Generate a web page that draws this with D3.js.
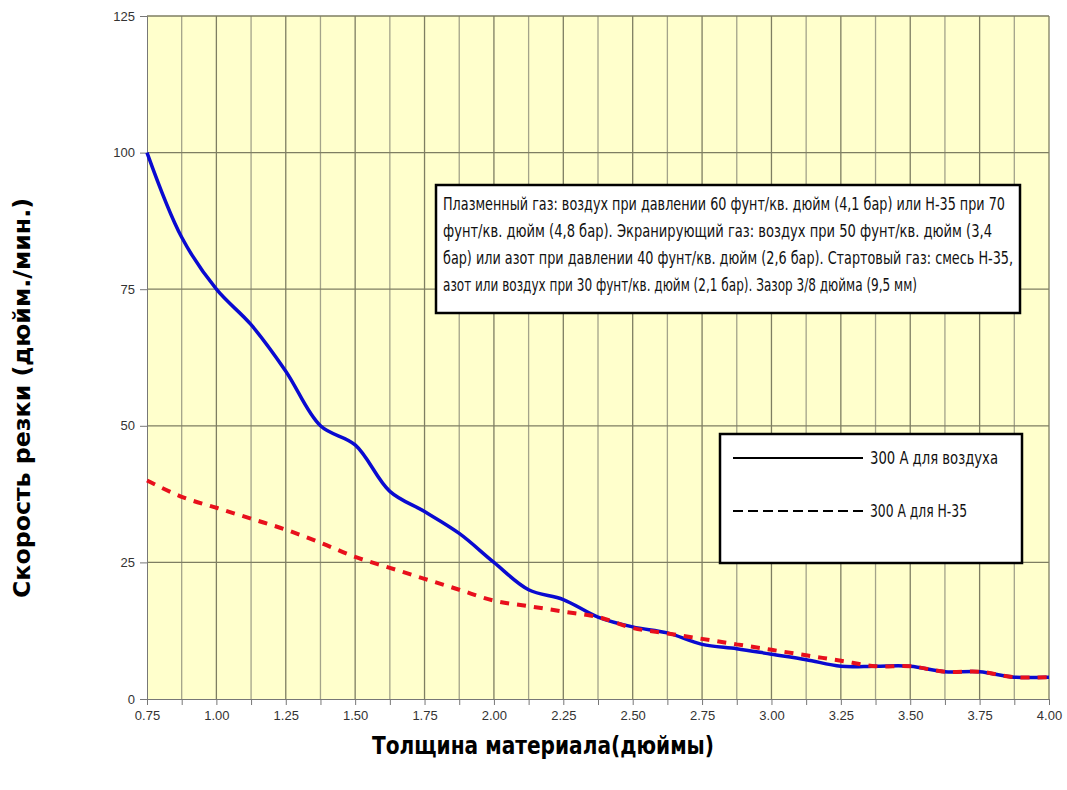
<!DOCTYPE html>
<html>
<head>
<meta charset="utf-8">
<script src="https://cdn.jsdelivr.net/npm/d3@7"></script>
<style>
  body { margin: 0; background: #fff; }
  svg { display: block; }
</style>
</head>
<body>
<div id="chart"></div>
<script>
// thickness, inches (every 1/8")
const thickness = [0.75, 0.875, 1.0, 1.125, 1.25, 1.375, 1.5, 1.625, 1.75, 1.875,
  2.0, 2.125, 2.25, 2.375, 2.5, 2.625, 2.75, 2.875, 3.0, 3.125, 3.25, 3.375,
  3.5, 3.625, 3.75, 3.875, 4.0];

// cut speed, ipm
const speedAir = [100, 84.5, 75, 68.5, 60, 50, 46.5, 38, 34.3, 30.3,
  25, 20, 18.2, 15, 13.2, 12.1, 10, 9.2, 8.2, 7.2, 6, 6,
  6, 5, 5, 4, 4];
const speedH35 = [40, 37, 35, 33, 31, 28.6, 26, 24, 22, 20,
  18, 17, 16, 15, 13, 12, 11, 10, 9, 8, 7, 6,
  6, 5, 5, 4, 4];

const xTicks = [0.75, 1.0, 1.25, 1.5, 1.75, 2.0, 2.25, 2.5, 2.75, 3.0, 3.25, 3.5, 3.75, 4.0];
const yTicks = [0, 25, 50, 75, 100, 125];

const noteLines = [
  "Плазменный газ: воздух при давлении 60 фунт/кв. дюйм (4,1 бар) или Н-35 при  70",
  "фунт/кв. дюйм (4,8 бар). Экранирующий  газ: воздух при  50 фунт/кв. дюйм (3,4",
  "бар) или азот при давлении 40 фунт/кв. дюйм (2,6 бар). Стартовый газ: смесь Н-35,",
  "азот или воздух при 30 фунт/кв. дюйм (2,1 бар). Зазор 3/8 дюйма (9,5 мм)"
];
const noteWidths = [562, 549, 570, 474];
const legendItems = ["300 А для воздуха", "300 А для Н-35"];
const legendWidths = [128, 97];

const width = 1067, height = 790;
const margin = { top: 16, right: 18, bottom: 91, left: 147 };
const innerWidth = width - margin.left - margin.right,
      innerHeight = height - margin.top - margin.bottom;

const narrow = "'Liberation Sans Narrow', 'DejaVu Sans Condensed', 'Open Sans', sans-serif";

const svg = d3.select("#chart").append("svg")
    .attr("width", width)
    .attr("height", height);

const g = svg.append("g")
    .attr("transform", "translate(" + margin.left + "," + margin.top + ")");

const xScale = d3.scaleLinear().domain([0.75, 4.0]).range([0, innerWidth]);
const yScale = d3.scaleLinear().domain([0, 125]).range([innerHeight, 0]);

// plot background
g.append("rect")
    .attr("width", innerWidth)
    .attr("height", innerHeight)
    .attr("fill", "#ffffcc");

// vertical grid every 1/8"
const xGrid = d3.range(0, 27).map(i => 0.75 + i * 0.125);
g.selectAll(".vgrid").data(xGrid.slice(1)).enter().append("line")
    .attr("class", "vgrid")
    .attr("x1", d => xScale(d)).attr("x2", d => xScale(d))
    .attr("y1", 0).attr("y2", innerHeight)
    .attr("stroke", (d, i) => i % 2 ? "#7e7e62" : "#a3a38a")
    .attr("stroke-width", 1.3);

g.selectAll(".hgrid").data(yTicks.slice(1)).enter().append("line")
    .attr("class", "hgrid")
    .attr("x1", 0).attr("x2", innerWidth)
    .attr("y1", d => yScale(d)).attr("y2", d => yScale(d))
    .attr("stroke", "#7e7e62")
    .attr("stroke-width", 1.3);

// axes
const xAxis = g.append("g")
    .attr("transform", "translate(0," + innerHeight + ")")
    .call(d3.axisBottom(xScale).tickValues(xGrid).tickSize(6).tickFormat(""));
xAxis.select(".domain").attr("stroke", "#777");
xAxis.selectAll(".tick line").attr("stroke", "#777");

g.append("g")
    .attr("transform", "translate(0," + innerHeight + ")")
    .call(d3.axisBottom(xScale).tickValues(xTicks).tickSize(0).tickPadding(12)
        .tickFormat(d3.format(".2f")))
    .call(a => a.select(".domain").remove())
    .selectAll("text")
    .attr("font-family", "Arial, 'Liberation Sans', sans-serif")
    .attr("font-size", 13)
    .attr("fill", "#333");

const yAxis = g.append("g")
    .call(d3.axisLeft(yScale).tickValues(yTicks).tickSize(7).tickPadding(5));
yAxis.select(".domain").attr("stroke", "#777");
yAxis.selectAll(".tick line").attr("stroke", "#777");
yAxis.selectAll("text")
    .attr("font-family", "Arial, 'Liberation Sans', sans-serif")
    .attr("font-size", 13)
    .attr("fill", "#333");

// series
const line = (values) => d3.line()
    .x((d, i) => xScale(thickness[i]))
    .y(d => yScale(d))
    .curve(d3.curveCatmullRom.alpha(0.5))(values);

g.append("path")
    .attr("d", line(speedAir))
    .attr("fill", "none")
    .attr("stroke", "#0a0ad0")
    .attr("stroke-width", 3.5);

g.append("path")
    .attr("d", line(speedH35))
    .attr("fill", "none")
    .attr("stroke", "#e8101c")
    .attr("stroke-width", 4)
    .attr("stroke-dasharray", "9,8");

// note box
const note = svg.append("g").attr("transform", "translate(436,185)");
note.append("rect")
    .attr("width", 584).attr("height", 128)
    .attr("fill", "#fff").attr("stroke", "#000").attr("stroke-width", 2.5);
note.selectAll("text").data(noteLines).enter().append("text")
    .attr("x", 7)
    .attr("y", (d, i) => 25 + i * 27)
    .attr("font-family", narrow)
    .attr("font-size", 17)
    .attr("fill", "#111")
    .attr("textLength", (d, i) => noteWidths[i])
    .attr("lengthAdjust", "spacingAndGlyphs")
    .text(d => d);

// legend
const legend = svg.append("g").attr("transform", "translate(720,434)");
legend.append("rect")
    .attr("width", 302).attr("height", 129)
    .attr("fill", "#fff").attr("stroke", "#000").attr("stroke-width", 2.5);
legendItems.forEach((t, i) => {
    const y = 24 + i * 53;
    legend.append("line")
        .attr("x1", 13).attr("x2", 143)
        .attr("y1", y).attr("y2", y)
        .attr("stroke", "#000").attr("stroke-width", 2)
        .attr("stroke-dasharray", i ? "10,5" : null);
    legend.append("text")
        .attr("x", 150).attr("y", y + 6)
        .attr("font-family", narrow)
        .attr("font-size", 17)
        .attr("fill", "#111")
        .attr("textLength", legendWidths[i])
        .attr("lengthAdjust", "spacingAndGlyphs")
        .text(t);
});

// axis titles
svg.append("text")
    .attr("x", 543)
    .attr("y", 754)
    .attr("text-anchor", "middle")
    .attr("font-family", narrow)
    .attr("font-weight", "bold")
    .attr("font-size", 24)
    .attr("fill", "#000")
    .attr("textLength", 342)
    .attr("lengthAdjust", "spacingAndGlyphs")
    .text("Толщина материала(дюймы)");

svg.append("text")
    .attr("transform", "translate(30,398) rotate(-90)")
    .attr("text-anchor", "middle")
    .attr("font-family", narrow)
    .attr("font-weight", "bold")
    .attr("font-size", 23)
    .attr("fill", "#000")
    .attr("textLength", 400)
    .attr("lengthAdjust", "spacingAndGlyphs")
    .text("Скорость резки (дюйм./мин.)");
</script>
</body>
</html>
